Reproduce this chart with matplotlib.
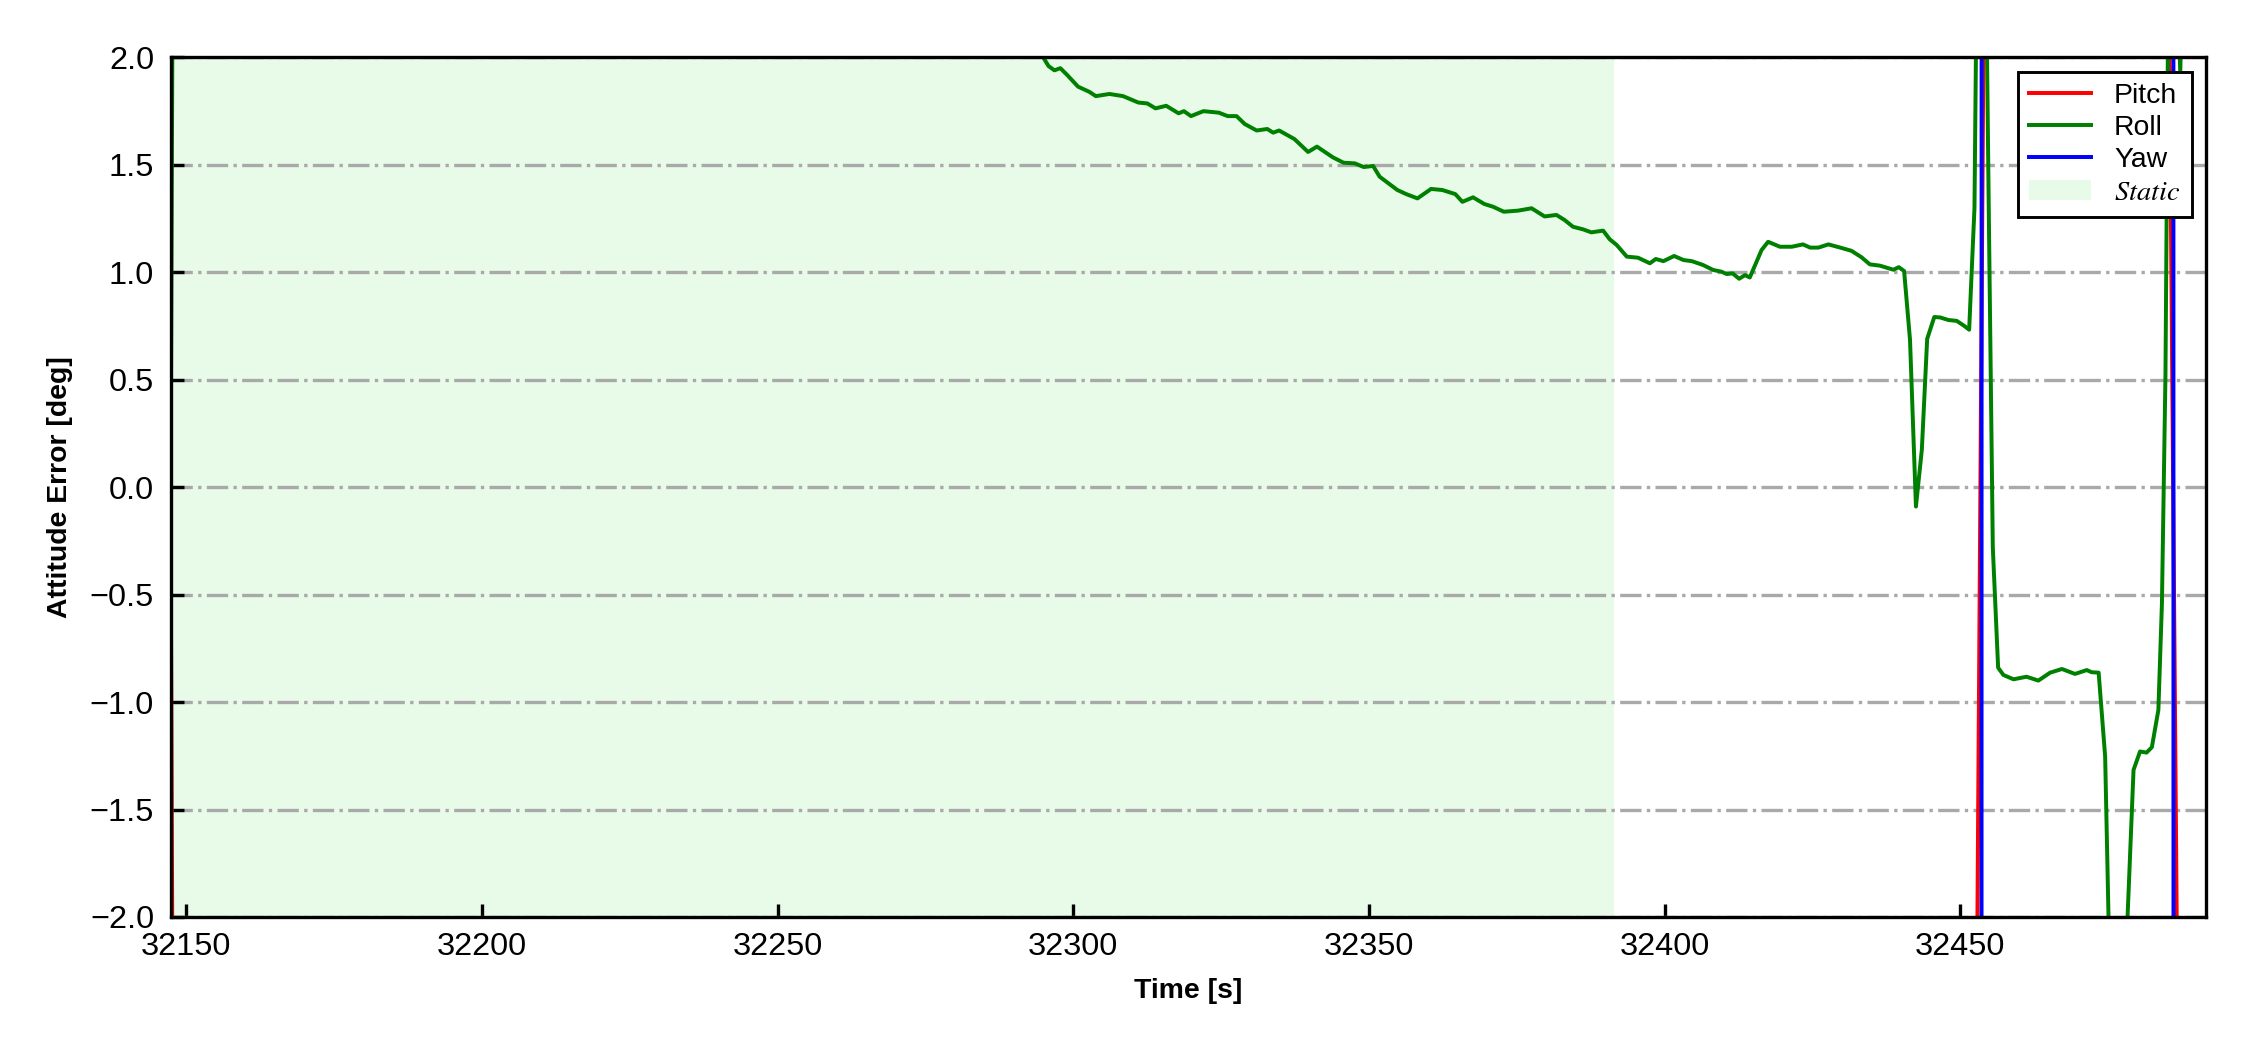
import numpy as np
import matplotlib
matplotlib.use("Agg")
import matplotlib.pyplot as plt

plt.rcParams["font.family"] = ["Liberation Sans", "DejaVu Sans"]
plt.rcParams["mathtext.fontset"] = "stix"

# Attitude error samples (values beyond +/-2 are off-scale estimates)
t_roll = [32147.36, 32148.36, 32220.0, 32293.8, 32295.8, 32296.8, 32297.8, 32298.9,
          32300.8, 32302.7, 32303.8, 32306.1, 32308.4, 32311.0, 32312.5, 32313.9,
          32315.7, 32317.8, 32318.7, 32319.9, 32322.0, 32324.6, 32326.1, 32327.6,
          32329.0, 32331.0, 32332.8, 32333.8, 32334.8, 32337.4, 32339.7, 32341.2,
          32343.9, 32345.7, 32347.6, 32349.1, 32350.7, 32351.8, 32354.8, 32356.3,
          32358.2, 32360.5, 32362.4, 32364.6, 32365.8, 32367.6, 32369.5, 32371.0,
          32372.8, 32375.2, 32377.5, 32379.7, 32381.7, 32383.1, 32384.5, 32386.2,
          32387.6, 32389.6, 32390.7, 32391.9, 32393.6, 32395.5, 32397.5, 32398.5,
          32399.8, 32401.6, 32403.2, 32404.6, 32406.5, 32408.2, 32409.6, 32410.5,
          32411.5, 32412.6, 32413.6, 32414.4, 32416.4, 32417.5, 32419.5, 32421.5,
          32423.4, 32424.6, 32426.0, 32427.7, 32429.7, 32431.6, 32433.3, 32434.7,
          32436.4, 32438.7, 32439.6, 32440.5, 32441.5, 32442.5, 32443.5, 32444.4,
          32445.6, 32446.6, 32448.0, 32449.4, 32450.6, 32451.5, 32452.4, 32453.5,
          32454.8, 32455.5, 32456.4, 32457.3, 32459.0, 32461.2, 32463.2, 32465.2,
          32467.2, 32469.4, 32471.4, 32472.2, 32473.4, 32474.5, 32475.6, 32477.4,
          32479.3, 32480.4, 32481.5, 32482.4, 32483.5, 32484.1, 32484.7, 32485.5,
          32486.5, 32487.2, 32488.0, 32491.5]
roll = [0.26, 7.0, 4.0, 2.05, 1.96, 1.94, 1.95, 1.92,
        1.864, 1.84, 1.82, 1.83, 1.82, 1.79, 1.786, 1.763,
        1.775, 1.74, 1.75, 1.727, 1.75, 1.743, 1.727, 1.727,
        1.69, 1.66, 1.667, 1.65, 1.66, 1.62, 1.56, 1.585,
        1.535, 1.51, 1.507, 1.49, 1.495, 1.445, 1.383, 1.364,
        1.344, 1.388, 1.383, 1.364, 1.328, 1.349, 1.318, 1.305,
        1.282, 1.287, 1.298, 1.26, 1.267, 1.243, 1.212, 1.20,
        1.186, 1.194, 1.154, 1.127, 1.073, 1.068, 1.042, 1.062,
        1.052, 1.076, 1.057, 1.052, 1.034, 1.011, 1.003, 0.992,
        0.995, 0.970, 0.987, 0.976, 1.104, 1.142, 1.119, 1.119,
        1.13, 1.115, 1.115, 1.13, 1.115, 1.10, 1.07, 1.037,
        1.031, 1.012, 1.024, 1.006, 0.685, -0.09, 0.175, 0.69,
        0.792, 0.79, 0.778, 0.774, 0.752, 0.733, 1.30, 4.5,
        1.33, -0.28, -0.84, -0.874, -0.894, -0.882, -0.90, -0.863,
        -0.846, -0.869, -0.851, -0.861, -0.863, -1.254, -2.7, -2.6,
        -1.316, -1.23, -1.235, -1.21, -1.037, -0.543, 0.525, 3.5,
        2.6, 1.93, 2.8, 3.2]

t_pitch = [32147.36, 32148.36, 32300.0, 32452.4, 32454.4, 32484.8, 32487.2, 32491.5]
pitch = [-0.42, -7.0, -5.0, -4.0, 4.0, 4.0, -4.0, -4.5]

t_yaw = [32147.36, 32453.1, 32454.1, 32485.55, 32486.55, 32491.5]
yaw = [-150.0, -175.0, 175.0, 176.0, -176.0, -170.0]

static_start, static_end = 32147.36, 32391.5

fig = plt.figure(figsize=(7.5, 3.5), dpi=300)
ax = fig.add_axes([0.0759, 0.1267, 0.9044, 0.8186])

ax.plot(t_pitch, pitch, color="r", lw=0.95, label="Pitch")
ax.plot(t_roll, roll, color="g", lw=0.95, label="Roll")
ax.plot(t_yaw, yaw, color="b", lw=0.95, label="Yaw")
ax.axvspan(static_start, static_end, color="lightgreen", alpha=0.2, lw=0, label=r"$Static$")

ax.set_xlim(32147.36, 32491.5)
ax.set_ylim(-2, 2)
ax.set_yticks(np.arange(-2, 2.01, 0.5))
ax.set_xticks([32150, 32200, 32250, 32300, 32350, 32400, 32450])
ax.yaxis.grid(True, linestyle="-.", color="darkgray", lw=0.8)
ax.set_axisbelow("line")

ax.tick_params(direction="in", length=3.2, width=0.8, labelsize=7.8, top=False, right=False)
ax.tick_params(axis="y", pad=4.0)
ax.set_xlabel("Time [s]", fontsize=6.8, fontweight="bold")
ax.set_ylabel("Attitude Error [deg]", fontsize=6.8, fontweight="bold")

leg = ax.legend(loc="upper right", fontsize=6.8, fancybox=False, edgecolor="k",
                framealpha=1, labelspacing=0.22, handlelength=2.2)
leg.get_frame().set_linewidth(0.7)

fig.savefig("out.png", dpi=300)
